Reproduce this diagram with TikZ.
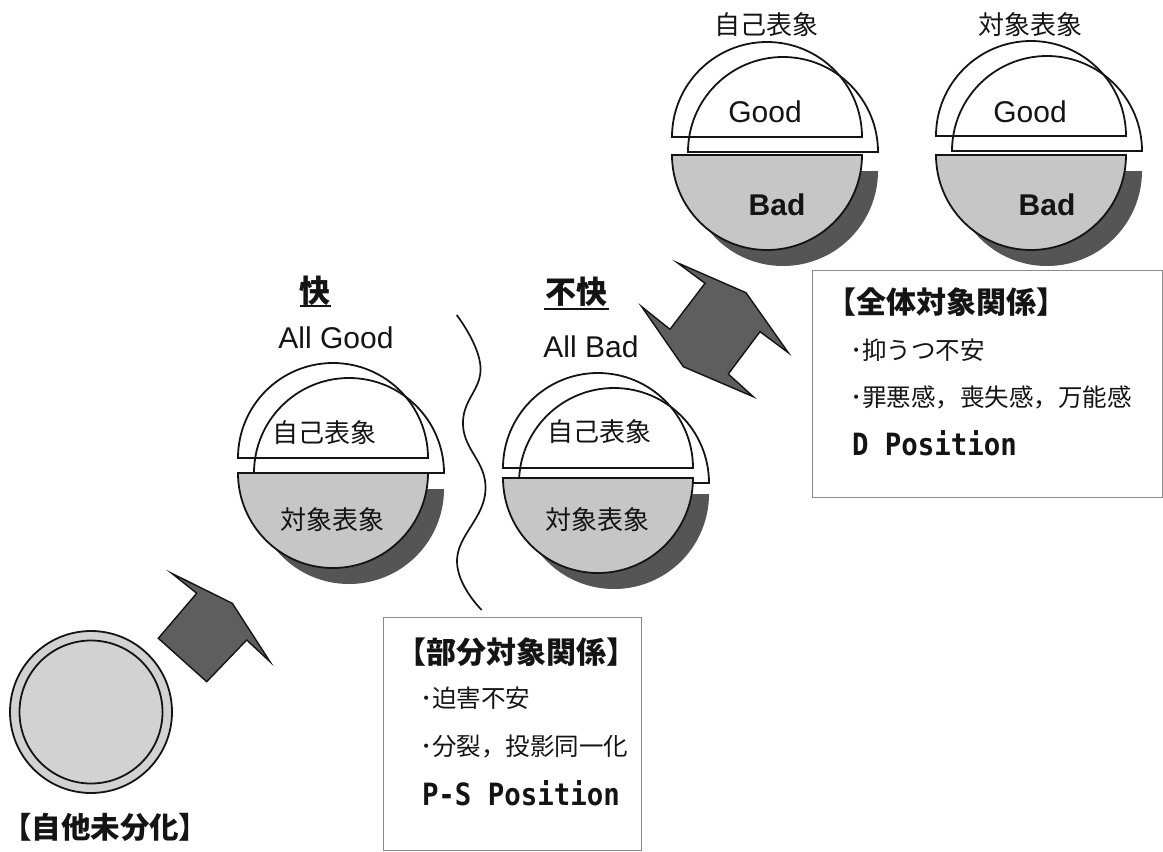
\documentclass[tikz,border=0pt]{standalone}
\usepackage{fontspec}
\setmainfont{Liberation Sans}
\newfontfamily\jpf{Noto Sans CJK JP}
\newfontfamily\monof{DejaVu Sans Mono}
\definecolor{lgray}{HTML}{C6C6C6}
\definecolor{cgray}{HTML}{D2D2D2}
\definecolor{dgray}{HTML}{555555}
\definecolor{agray}{HTML}{5E5E5E}
\definecolor{ink}{HTML}{141414}
\definecolor{boxc}{HTML}{8A8A8A}
\tikzset{
  ln/.style={draw=ink, line width=1.8pt},
  txt/.style={inner sep=0pt, outer sep=0pt, text=ink},
  jpl/.style={txt, font=\jpf\fontsize{26}{30}\selectfont},
  goodtext/.style={txt, font=\fontsize{30}{34}\selectfont},
  badtext/.style={txt, font=\bfseries\fontsize{30}{34}\selectfont},
  headtext/.style={txt, font=\jpf\bfseries\fontsize{31}{36}\selectfont},
  boxtitle/.style={txt, anchor=west, font=\jpf\bfseries\fontsize{30}{34}\selectfont},
  bultext/.style={txt, anchor=west, font=\jpf\fontsize{24.5}{29}\selectfont},
  postext/.style={txt, anchor=west, font=\monof\bfseries\fontsize{27.4}{32}\selectfont},
  textbox/.style={draw=boxc, line width=1pt, inner sep=0pt, anchor=north west},
  arrowshape/.style={fill=agray, draw=ink, line width=1.4pt, line join=miter},
}
% #1 cx, #2 base of upper half (image y), #3 top of gray half (image y)
\newcommand\splitunit[3]{%
  \pgfmathsetmacro\gd{#3-#2}%
  \begin{scope}[shift={(#1,-#2)}]
    \fill[dgray] (16-95,-\gd-16) arc[start angle=180, end angle=360, radius=95] -- cycle;
    \draw[ln] (16-95,-15) arc[start angle=180, end angle=0, radius=95] -- cycle;
    \draw[ln] (-95,0) arc[start angle=180, end angle=0, radius=95] -- cycle;
    \filldraw[ln, fill=lgray] (-95,-\gd) arc[start angle=180, end angle=360, radius=95] -- cycle;
  \end{scope}}
\newcommand\tallmono[1]{\scalebox{1}[1.12]{#1}}
\begin{document}
\begin{tikzpicture}[x=1pt, y=1pt]
\useasboundingbox (0,0) rectangle (1163,-852);

% ---- undifferentiated circle
\filldraw[ln, fill=cgray] (91,-712) circle (81);
\draw[ln] (91,-712) circle (71.5);
\node[txt, anchor=west, font=\jpf\bfseries\fontsize{29.5}{34}\selectfont] (jita) at (2,-827) {【自他未分化】};

% ---- arrow 1
\draw[arrowshape] (196.7,-593.3) -- (171.7,-573.3) -- (232.3,-603.3) -- (270,-661.7)
  -- (246.7,-640) -- (206.7,-681.7) -- (158.3,-638.3) -- cycle;

% ---- middle units
\splitunit{333}{458}{473}
\splitunit{598}{468}{478}
\node[headtext] (kai) at (315,-291) {快};
\draw[ink, line width=2pt] (300,-306) -- (331,-306);
\node[headtext] (fukai) at (576,-292) {不快};
\draw[ink, line width=2pt] (544,-309) -- (609,-309);
\node[goodtext] (allgood) at (336,-338) {All Good};
\node[goodtext] (allbad) at (591,-347) {All Bad};
\node[jpl] (self1) at (324,-433) {自己表象};
\node[jpl] (obj1) at (332,-520) {対象表象};
\node[jpl] (self2) at (599,-432) {自己表象};
\node[jpl] (obj2) at (597,-520) {対象表象};

% ---- wavy split line
\draw[ln, line width=1.7pt] plot[smooth, tension=0.75] coordinates
  {(456.7,-315) (480.5,-367) (463,-425) (485.5,-490) (457,-560) (481.7,-610)};

% ---- part-object box
\node[textbox, minimum width=258, minimum height=233] (box1) at (383,-617) {};
\node[boxtitle] (t1) at (396,-652) {【部分対象関係】};
\node[bultext] (b11) at (420,-698) {･迫害不安};
\node[bultext] (b12) at (420,-747) {･分裂，投影同一化};
\node[postext] (ps) at (422,-793) {\tallmono{P-S Position}};

% ---- arrow 2 (double)
\draw[arrowshape] (746.0,-292.7) -- (788.3,-352.7) -- (760.0,-331.7) -- (728.3,-374.0)
  -- (753.3,-396.7) -- (683.3,-366.7) -- (641.7,-306.7) -- (670.0,-329.3)
  -- (705.0,-283.3) -- (677.3,-262.7) -- cycle;

% ---- top units
\splitunit{767}{137}{155}
\splitunit{1031}{136}{155}
\node[jpl] (lself) at (766,-25) {自己表象};
\node[jpl] (lobj) at (1030,-25) {対象表象};
\node[goodtext] (g1) at (765,-112) {Good};
\node[badtext] (bd1) at (777,-205) {Bad};
\node[goodtext] (g2) at (1030,-112) {Good};
\node[badtext] (bd2) at (1047,-205) {Bad};

% ---- whole-object box
\node[textbox, minimum width=350, minimum height=227] (box2) at (812,-270) {};
\node[boxtitle] (t2) at (826,-302) {【全体対象関係】};
\node[bultext] (b21) at (850,-350) {･抑うつ不安};
\node[bultext] (b22) at (850,-397) {･罪悪感，喪失感，万能感};
\node[postext] (dp) at (852,-443) {\tallmono{D Position}};
\end{tikzpicture}
\end{document}
